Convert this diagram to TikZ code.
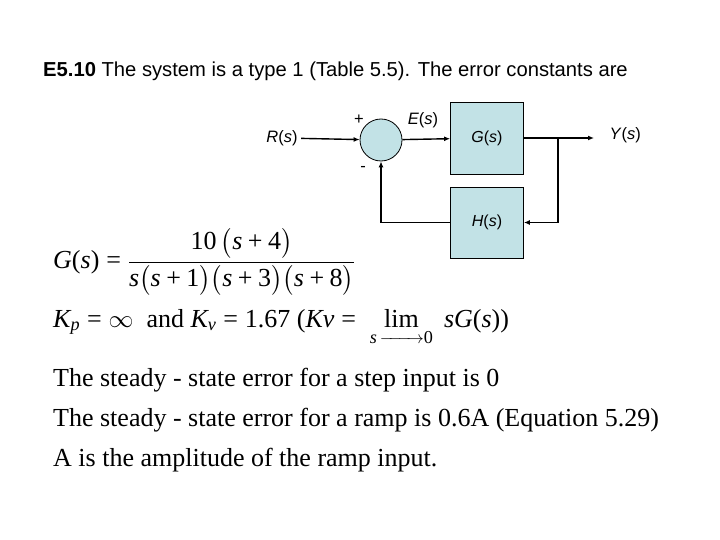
\documentclass[tikz,border=0pt]{standalone}
\usepackage{fontspec}
\usepackage{amsmath}
\setmainfont{Liberation Serif}
\newfontfamily\arial{Liberation Sans}
\newcommand\iv[1]{\text{\itshape #1}}
\newcommand\tx[1]{\text{#1}}
\newcommand\mplus{\mathbin{\text{+}}}
\newcommand\meq{\mathrel{\text{=}}}
\definecolor{boxfill}{HTML}{C2E2E6}
\usetikzlibrary{arrows.meta}
\tikzset{
  block/.style={draw, line width=0.8pt, fill=boxfill, minimum width=73pt, minimum height=72pt, font=\arial\fontsize{16}{19}\selectfont},
  sumnode/.style={draw, line width=0.8pt, circle, fill=boxfill, minimum size=42pt, inner sep=0pt},
  lbl/.style={font=\arial\fontsize{16.5}{19}\selectfont},
  sig/.style={line width=1.4pt, -{Latex[length=6pt,width=5pt]}},
  wire/.style={line width=1.4pt},
  txt/.style={anchor=base west, inner sep=0pt, font=\fontsize{26}{30}\selectfont},
}
\begin{document}
\begin{tikzpicture}[x=1pt,y=-1pt]
\useasboundingbox (0,0) rectangle (720,540);

\node[anchor=base west, inner sep=0pt, font=\arial\fontsize{20.2}{24}\selectfont] (title) at (43,77){\textbf{E5.10} The system is a type 1 (Table 5.5). The error constants are};

\node[lbl] (R) at (282,138){\textit{R}(\textit{s})};
\node[sumnode] (sum) at (381,140){};
\node[lbl] (plus) at (359,120){+};
\node[lbl] (minus) at (363,169){-};
\node[lbl] (E) at (423,120){\textit{E}(\textit{s})};
\node[block] (G) at (487,138){\textit{G}(\textit{s})};
\node[block, minimum height=71pt] (H) at (487,222.5){\textit{H}(\textit{s})};
\coordinate (branch) at (558,138);
\coordinate (out) at (594,138);
\node[lbl, anchor=west] (Y) at (606,135){\textit{Y}(\textit{s})};

\draw[sig] (R) -- (sum);
\draw[sig] (sum) -- (G);
\draw[wire] (G) -- (branch);
\draw[sig] (branch) -- (out);
\draw[sig] (branch) |- (H);
\draw[sig] (H) -| (sum);

\node[anchor=west, inner sep=0pt, font=\fontsize{26}{30}\selectfont] (Gs) at (53,262){$\iv{G}\tx{(}\iv{s}\tx{)} \meq \dfrac{\tx{10}\,\bigl(\iv{s}\mplus\tx{4}\bigr)}{\iv{s}\bigl(\iv{s}\mplus\tx{1}\bigr)\bigl(\iv{s}\mplus\tx{3}\bigr)\bigl(\iv{s}\mplus\tx{8}\bigr)}$};
\node[txt] (K) at (53,327){$\iv{K}_{\iv{p}} \meq \infty$ \ and $\iv{K}_{\iv{v}} \meq \tx{1.67}$ ($\iv{Kv} \meq\; \mathop{\tx{lim}}\limits_{\iv{s}\,\text{\makebox[44pt]{\rightarrowfill}}\tx{0}}\; \iv{sG}\tx{(}\iv{s}\tx{)}$)};

\node[txt] (line1) at (53,386){The steady - state error for a step input is 0};
\node[txt] (line2) at (53,426){The steady - state error for a ramp is 0.6A (Equation 5.29)};
\node[txt] (line3) at (53,466){A is the amplitude of the ramp input.};

\end{tikzpicture}
\end{document}
